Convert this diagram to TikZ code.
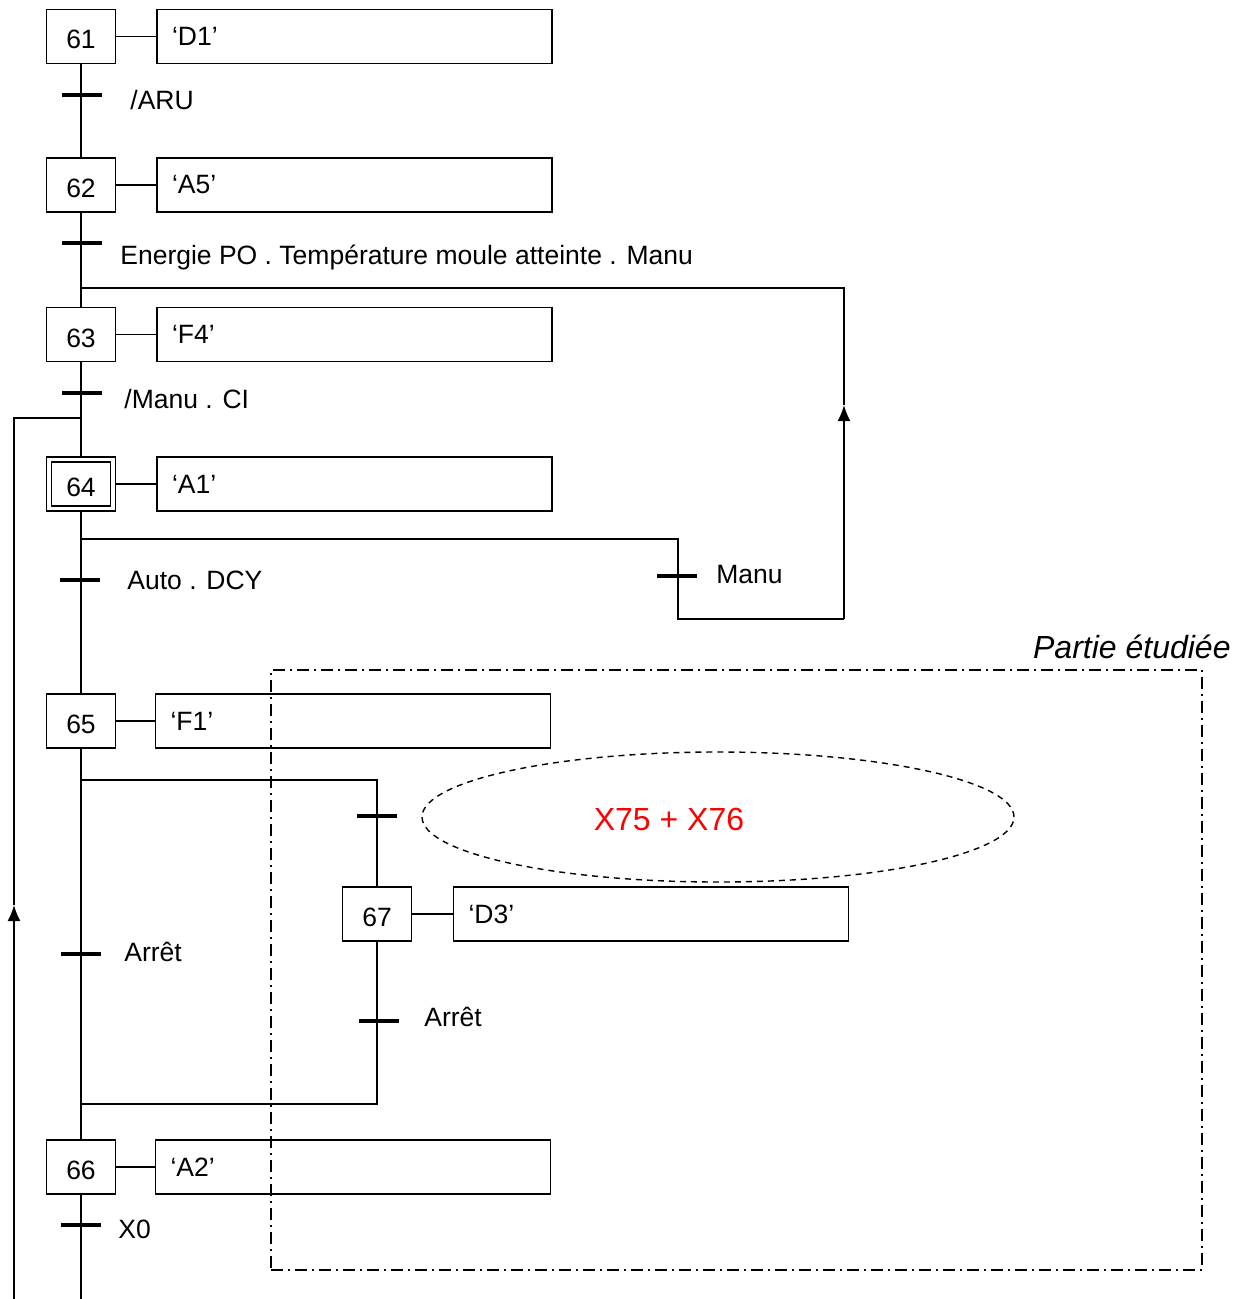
\documentclass[tikz,border=0pt]{standalone}
\usepackage{fontspec}
\setmainfont{Liberation Sans}
\usetikzlibrary{shapes.geometric,arrows.meta}
\begin{document}
\begin{tikzpicture}[x=0.5pt,y=-0.5pt,
  font=\fontsize{13.25}{15}\selectfont,
  stepbox/.style={draw, rectangle, minimum width=34.5pt, minimum height=27pt, inner sep=0pt, line width=0.9pt, text height=12.5pt, text depth=0pt},
  actbox/.style={draw, rectangle, minimum height=27pt, text width=182.5pt, inner xsep=7.5pt, inner ysep=0pt, align=left, line width=0.9pt},
  trans/.style={fill=black, rectangle, minimum width=20pt, minimum height=2pt, inner sep=0pt},
  cond/.style={anchor=base west, inner sep=0pt},
  link/.style={line width=0.85pt},
  tip/.style={-{Latex[length=8pt,width=6.5pt]}},
  big/.style={font=\fontsize{16}{18}\selectfont},
  ]
\useasboundingbox (0,0) rectangle (1249,1299);

% steps
\node[stepbox] (s61) at (81,36.5) {61};
\node[stepbox] (s62) at (81,185) {62};
\node[stepbox] (s63) at (81,334.5) {63};
\node[stepbox, line width=0.6pt] (s64) at (81,484) {};
\node[stepbox, minimum width=29.5pt, minimum height=22pt] (s64i) at (s64.center) {64};
\node[stepbox] (s65) at (81,721) {65};
\node[stepbox] (s66) at (81,1167) {66};
\node[stepbox] (s67) at (377,914) {67};

% actions
\node[actbox] (a61) at (354.5,36.5) {‘D1’};
\node[actbox] (a62) at (354.5,185) {‘A5’};
\node[actbox] (a63) at (354.5,334.5) {‘F4’};
\node[actbox] (a64) at (354.5,484) {‘A1’};
\node[actbox] (a65) at (353,721) {‘F1’};
\node[actbox] (a66) at (353,1167) {‘A2’};
\node[actbox] (a67) at (651,914) {‘D3’};

\foreach \n in {61,62,63,64,65,66,67} \draw[link] (s\n) -- (a\n);

% transitions
\node[trans] (t1) at (82,95) {};
\node[trans] (t2) at (82,243) {};
\node[trans] (t3) at (82,393) {};
\node[trans] (t4) at (80,580) {};
\node[trans] (t5) at (677,576) {};
\node[trans] (t6) at (377,816) {};
\node[trans] (t7) at (81,954) {};
\node[trans] (t8) at (379,1021) {};
\node[trans] (t9) at (81,1225) {};

% receptivities
\node[cond] (c1) at (130,109.5) {/ARU};
\node[cond] (c2) at (120,264.5) {Energie PO . Température moule atteinte . Manu};
\node[cond] (c3) at (124,408.5) {/Manu . CI};
\node[cond] (c4) at (127,589.5) {Auto . DCY};
\node[cond] (c5) at (716,583.5) {Manu};
\node[cond] (c7) at (124,961.5) {Arrêt};
\node[cond] (c8) at (424,1026.5) {Arrêt};
\node[cond] (c9) at (118,1238.5) {X0};

% main sequence
\draw[link] (s61) -- (s62);
\draw[link] (s62) -- (s63);
\draw[link] (s63) -- (s64);
\draw[link] (s64) -- (s65);
\draw[link] (s65) -- (s66);
\coordinate (bot) at (81,1299);
\draw[link] (s66) -- (bot);

% jump 64 -> 63 via Manu
\coordinate (d64) at (81,539);
\coordinate (m1) at (678,539);
\coordinate (m2) at (678,619);
\coordinate (m3) at (844,619);
\coordinate (m4) at (844,405);
\coordinate (m5) at (844,288);
\coordinate (j63) at (81,288);
\draw[link] (d64) -- (m1) -- (m2) -- (m3);
\draw[link,tip] (m3) -- (m4);
\draw[link] (m4) -- (m5) -- (j63);

% loop back to 64
\coordinate (r1) at (81,418);
\coordinate (r2) at (14,418);
\coordinate (r3) at (14,905);
\coordinate (r4) at (14,1299);
\draw[link,tip] (r4) -- (r3);
\draw[link] (r3) -- (r2) -- (r1);

% branch to 67
\coordinate (b1) at (81,780);
\coordinate (b2) at (377,780);
\coordinate (b3) at (377,1104);
\coordinate (b4) at (81,1104);
\draw[link] (b1) -- (b2) -- (s67);
\draw[link] (s67) -- (b3) -- (b4);

% studied part
\node[draw, line width=0.75pt, dash pattern=on 6pt off 2.5pt on 1pt off 2.5pt,
      minimum width=465.5pt, minimum height=300pt, inner sep=0pt] (zone) at (736.5,970) {};
\node[anchor=east, inner sep=0pt, font=\fontsize{16}{18}\selectfont\itshape] (pe) at (1231,647) {Partie étudiée};

\node[draw, ellipse, line width=0.7pt, dash pattern=on 3pt off 2.5pt,
      minimum width=296pt, minimum height=65pt, inner sep=0pt] (ell) at (718,817) {};
\node[text=red, inner sep=0pt, big] (x7576) at (669,819) {X75 + X76};
\end{tikzpicture}
\end{document}
